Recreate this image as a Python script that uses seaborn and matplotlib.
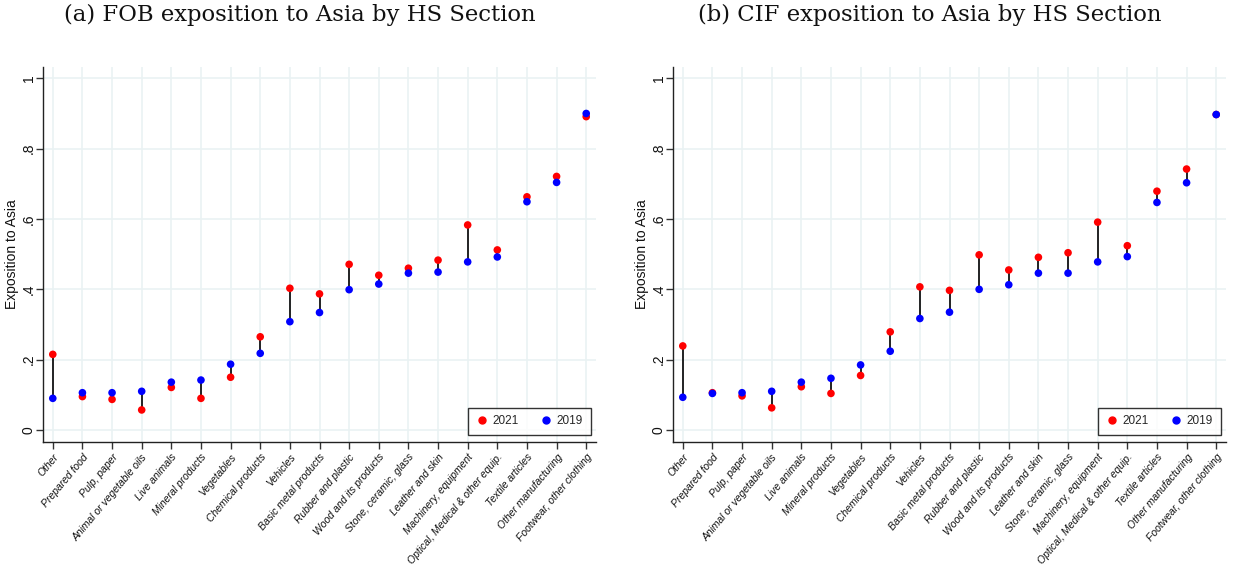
import numpy as np
import pandas as pd
import matplotlib
matplotlib.use("Agg")
import matplotlib.pyplot as plt
import seaborn as sns
from matplotlib.lines import Line2D

sns.set_theme(style="white")
SANS = ['Liberation Sans', 'DejaVu Sans']
plt.rcParams['font.family'] = SANS

# ---- data ----
cats_a = ["Other", "Prepared food", "Pulp, paper", "Animal or vegetable oils", "Live animals",
          "Mineral products", "Vegetables", "Chemical products", "Vehicles", "Basic metal products",
          "Rubber and plastic", "Wood and its products", "Stone, ceramic, glass", "Leather and skin",
          "Machinery, equipment", "Optical, Medical & other equip.", "Textile articles",
          "Other manufacturing", "Footwear, other clothing"]
fob_2021 = [0.215, 0.095, 0.087, 0.057, 0.121, 0.090, 0.150, 0.265, 0.403, 0.387,
            0.471, 0.440, 0.460, 0.483, 0.583, 0.512, 0.663, 0.721, 0.891]
fob_2019 = [0.090, 0.106, 0.106, 0.110, 0.136, 0.142, 0.187, 0.218, 0.308, 0.334,
            0.399, 0.415, 0.446, 0.449, 0.478, 0.492, 0.649, 0.704, 0.900]

cats_b = ["Other", "Prepared food", "Pulp, paper", "Animal or vegetable oils", "Live animals",
          "Mineral products", "Vegetables", "Chemical products", "Vehicles", "Basic metal products",
          "Rubber and plastic", "Wood and its products", "Leather and skin", "Stone, ceramic, glass",
          "Machinery, equipment", "Optical, Medical & other equip.", "Textile articles",
          "Other manufacturing", "Footwear, other clothing"]
cif_2021 = [0.239, 0.106, 0.097, 0.063, 0.123, 0.104, 0.155, 0.279, 0.407, 0.397,
            0.498, 0.455, 0.491, 0.504, 0.591, 0.524, 0.679, 0.742, 0.897]
cif_2019 = [0.093, 0.104, 0.106, 0.110, 0.136, 0.147, 0.185, 0.224, 0.317, 0.335,
            0.400, 0.413, 0.446, 0.446, 0.478, 0.493, 0.647, 0.703, 0.897]

titles = ["(a) FOB exposition to Asia by HS Section", "(b) CIF exposition to Asia by HS Section"]
years = ["2021", "2019"]
colors = {"2021": "#ff0000", "2019": "#0000ff"}
yticks = [0, 0.2, 0.4, 0.6, 0.8, 1.0]
ytick_labels = ["0", ".2", ".4", ".6", ".8", "1"]

W, H = 1233, 571
fig = plt.figure(figsize=(W / 100, H / 100), dpi=100)

panels = [(cats_a, fob_2021, fob_2019, 43.3), (cats_b, cif_2021, cif_2019, 673.3)]
grid_color = "#eaf2f3"
ax_w_px, ax_top, ax_bot = 552.7, 66.7, 442.3

for i, (cats, v21, v19, left_px) in enumerate(panels):
    ax = fig.add_axes([left_px / W, (H - ax_bot) / H, ax_w_px / W, (ax_bot - ax_top) / H])
    df = pd.DataFrame({
        "cat": cats * 2,
        "val": list(v21) + list(v19),
        "year": ["2021"] * len(cats) + ["2019"] * len(cats),
    })
    xpos = np.arange(len(cats))
    # grid
    for yv in yticks:
        ax.axhline(yv, color=grid_color, lw=1.2, zorder=0)
    for xv in xpos:
        ax.axvline(xv, color=grid_color, lw=1.2, zorder=0)
    ax.vlines(xpos, v19, v21, color="black", lw=1.2, zorder=2)
    sns.scatterplot(data=df, x="cat", y="val", hue="year", palette=colors,
                    hue_order=years, s=30, edgecolor="none", linewidth=0,
                    ax=ax, zorder=3, legend=False)
    ax.set_xlim(-0.32, 18.33)
    ax.set_ylim(-0.035, 1.033)
    ax.set_xticks(xpos)
    ax.set_xticklabels(cats, rotation=50, ha="right", rotation_mode="anchor",
                       fontsize=7.5, style="italic", color="#111111", family=SANS)
    ax.set_yticks(yticks)
    ax.set_yticklabels(ytick_labels, rotation=90, va="center", fontsize=10,
                       color="#111111", family=SANS)
    ax.set_xlabel("")
    ax.set_ylabel("Exposition to Asia", fontsize=10, color="#111111", labelpad=2, family=SANS)
    ax.tick_params(axis="both", direction="out", length=5, width=1, color="#333333",
                   bottom=True, left=True)
    ax.tick_params(axis="y", pad=0.5)
    ax.tick_params(axis="x", pad=2)
    for s in ["top", "right"]:
        ax.spines[s].set_visible(False)
    for s in ["left", "bottom"]:
        ax.spines[s].set_color("#222222")
        ax.spines[s].set_linewidth(1.0)
    handles = [Line2D([], [], marker="o", ls="", color=colors[y], markersize=5) for y in years]
    leg = ax.legend(handles, years, ncol=2, loc="lower right",
                    bbox_to_anchor=(0.9904, 0.0194), borderaxespad=0,
                    frameon=True, fancybox=False, edgecolor="black",
                    prop={"family": SANS, "size": 8.5},
                    handletextpad=0.4, columnspacing=1.85, borderpad=0.65, handlelength=1.0)
    leg.get_frame().set_linewidth(1.0)
    ax.set_facecolor("white")
    fig.text((left_px + 256.2) / W, 1 - 21 / H, titles[i], ha="center", va="baseline",
             fontsize=16.4, family=["DejaVu Serif"], color="#111111")

fig.savefig("out.png", dpi=100, facecolor="white")
